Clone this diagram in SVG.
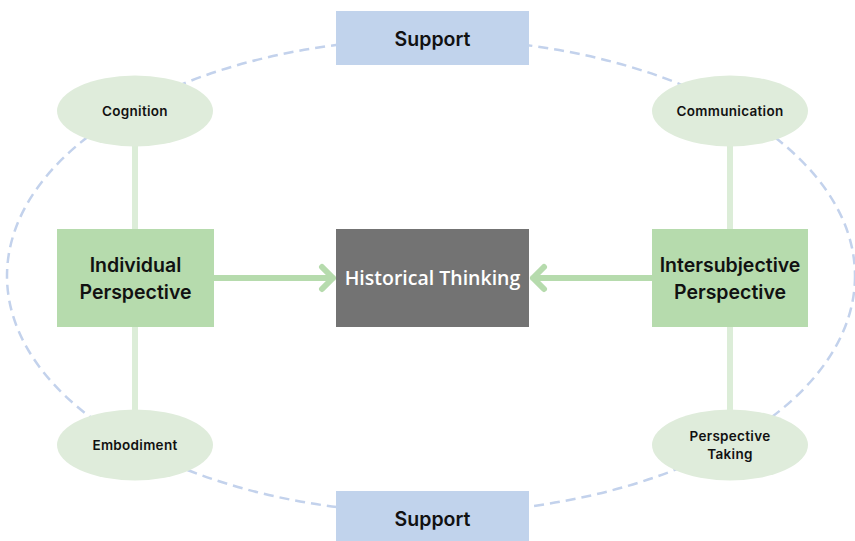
<svg xmlns="http://www.w3.org/2000/svg" width="855" height="541" viewBox="0 0 855 541">
<style>
.sup{fill:#c1d3ec}
.oval{fill:#dfecdb}
.persp{fill:#b6dbad}
.t{font-family:Inter,"Noto Sans",sans-serif;fill:#111;text-anchor:middle}
.big{font-size:19.5px;font-weight:600}
.small{font-size:13.5px;font-weight:600;letter-spacing:0.3px}
.ht{font-family:"Open Sans","Noto Sans",sans-serif;font-size:19.5px;font-weight:600;fill:#fff;text-anchor:middle}
.link{stroke:#dcedd8;stroke-width:6;fill:none}
.arr{stroke:#b6dbad;stroke-width:6;fill:none;stroke-linecap:round;stroke-linejoin:round}
</style>
<rect width="855" height="541" fill="#fff"/>
<g id="connectors">
<ellipse cx="431" cy="276" rx="424" ry="237" fill="none" stroke="#c3d2ec" stroke-width="2.5" stroke-dasharray="10 6"/>
<line class="link" x1="135" y1="146" x2="135" y2="230"/>
<line class="link" x1="135" y1="326" x2="135" y2="411"/>
<line class="link" x1="730" y1="146" x2="730" y2="230"/>
<line class="link" x1="730" y1="326" x2="730" y2="411"/>
<path class="arr" d="M214 278H333M322 267L333 278L322 289"/>
<path class="arr" d="M652 278H533M544 267L533 278L544 289"/>
</g>
<g id="support-top"><rect class="sup" x="336" y="11" width="193" height="54"/><text class="t big" x="432.5" y="45.5">Support</text></g>
<g id="support-bottom"><rect class="sup" x="336" y="491" width="193" height="50"/><text class="t big" x="432.5" y="525.5">Support</text></g>
<g id="cognition"><ellipse class="oval" cx="135" cy="111" rx="78" ry="35.5"/><text class="t small" x="135" y="116">Cognition</text></g>
<g id="communication"><ellipse class="oval" cx="730" cy="111" rx="78" ry="35.5"/><text class="t small" x="730" y="116">Communication</text></g>
<g id="embodiment"><ellipse class="oval" cx="135" cy="445" rx="78" ry="35.5"/><text class="t small" x="135" y="450">Embodiment</text></g>
<g id="perspective-taking"><ellipse class="oval" cx="730" cy="445" rx="78" ry="35.5"/><text class="t small" x="730" y="441">Perspective</text><text class="t small" x="730" y="459">Taking</text></g>
<g id="individual"><rect class="persp" x="57" y="229" width="157" height="98"/><text class="t big" x="135.5" y="271.5">Individual</text><text class="t big" x="135.5" y="298.5">Perspective</text></g>
<g id="intersubjective"><rect class="persp" x="652" y="229" width="156" height="98"/><text class="t big" x="730" y="271.5">Intersubjective</text><text class="t big" x="730" y="298.5">Perspective</text></g>
<g id="historical"><rect x="336" y="229" width="193" height="98" fill="#737373"/><text class="ht" x="432.5" y="285">Historical Thinking</text></g>
</svg>
